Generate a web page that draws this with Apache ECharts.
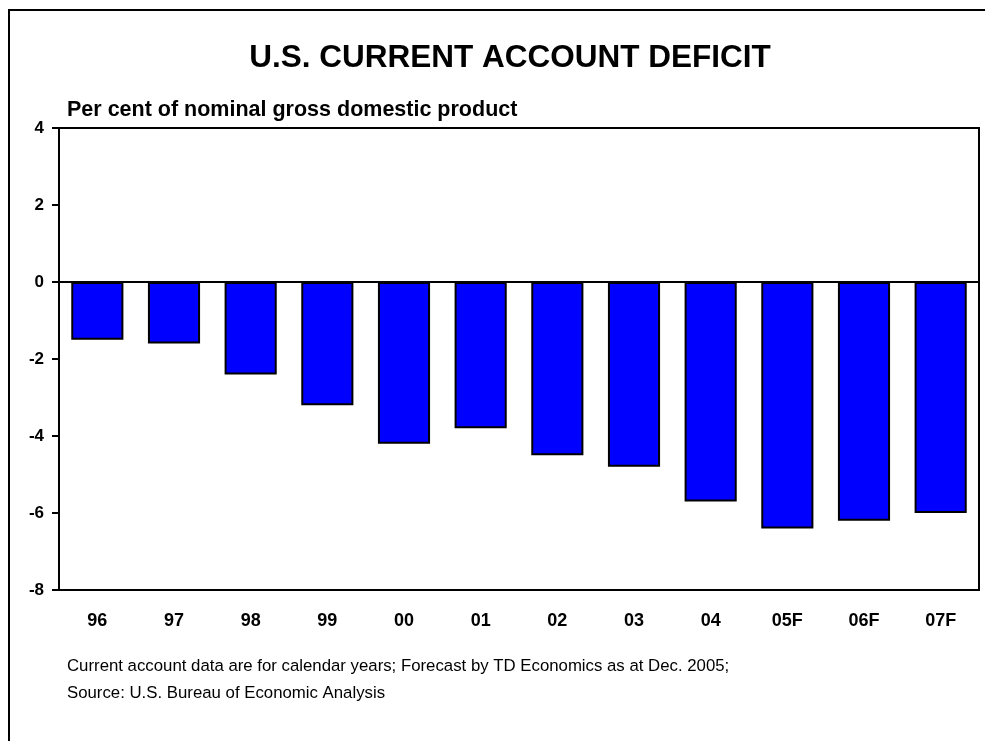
<!DOCTYPE html>
<html>
<head>
<meta charset="utf-8">
<script src="https://cdn.jsdelivr.net/npm/echarts@6/dist/echarts.min.js"></script>
<style>
  html, body { margin: 0; padding: 0; background: #fff; }
  #chart { width: 985px; height: 741px; }
</style>
</head>
<body>
<div id="chart"></div>
<script>
// Years (F = forecast)
const years = ['96', '97', '98', '99', '00', '01', '02', '03', '04', '05F', '06F', '07F'];
// Current account balance, % of nominal GDP
const deficit = [-1.5, -1.6, -2.4, -3.2, -4.2, -3.8, -4.5, -4.8, -5.7, -6.4, -6.2, -6.0];
const yTicks = { min: -8, max: 4, step: 2 };

const FONT = '"Liberation Sans", Arial, sans-serif';
const chart = echarts.init(document.getElementById('chart'));

chart.setOption({
  backgroundColor: '#fff',
  animation: false,
  title: {
    text: 'U.S. CURRENT ACCOUNT DEFICIT',
    left: 505,
    textAlign: 'center',
    top: 37,
    textStyle: { fontFamily: FONT, fontWeight: 'bold', fontSize: 31.5, color: '#000' }
  },
  graphic: [
    {
      type: 'rect',
      shape: { x: 9, y: 10, width: 1000, height: 800 },
      style: { fill: 'none', stroke: '#000', lineWidth: 2 },
      silent: true
    },
    {
      type: 'text',
      left: 67,
      top: 99,
      style: {
        text: 'Per cent of nominal gross domestic product',
        fontFamily: FONT, fontWeight: 'bold', fontSize: 21.5, fill: '#000'
      }
    },
    {
      type: 'text',
      left: 67,
      top: 653,
      style: {
        text: 'Current account data are for calendar years; Forecast by TD Economics as at Dec. 2005;\nSource: U.S. Bureau of Economic Analysis',
        fontFamily: FONT, fontSize: 16.8, lineHeight: 27, fill: '#000'
      }
    }
  ],
  grid: {
    left: 59, top: 128, right: 6, bottom: 151,
    show: true, borderColor: '#000', borderWidth: 2, backgroundColor: 'transparent'
  },
  xAxis: {
    type: 'category',
    data: years,
    axisLine: { onZero: false, lineStyle: { color: '#000', width: 2 } },
    axisTick: { show: false },
    axisLabel: {
      margin: 22,
      fontFamily: FONT, fontWeight: 'bold', fontSize: 18, color: '#000'
    },
    splitLine: { show: false }
  },
  yAxis: {
    type: 'value',
    min: yTicks.min, max: yTicks.max, interval: yTicks.step,
    axisLine: { show: true, lineStyle: { color: '#000', width: 2 } },
    axisTick: { show: true, length: 7, lineStyle: { color: '#000', width: 2 } },
    axisLabel: {
      margin: 15,
      fontFamily: FONT, fontWeight: 'bold', fontSize: 17, color: '#000'
    },
    splitLine: { show: false }
  },
  series: [{
    type: 'bar',
    data: deficit,
    barWidth: '68%',
    itemStyle: { color: '#0000ff', borderColor: '#000', borderWidth: 2 },
    markLine: {
      silent: true,
      symbol: 'none',
      label: { show: false },
      lineStyle: { color: '#000', width: 2, type: 'solid' },
      data: [{ yAxis: 0 }]
    }
  }]
});
</script>
</body>
</html>
